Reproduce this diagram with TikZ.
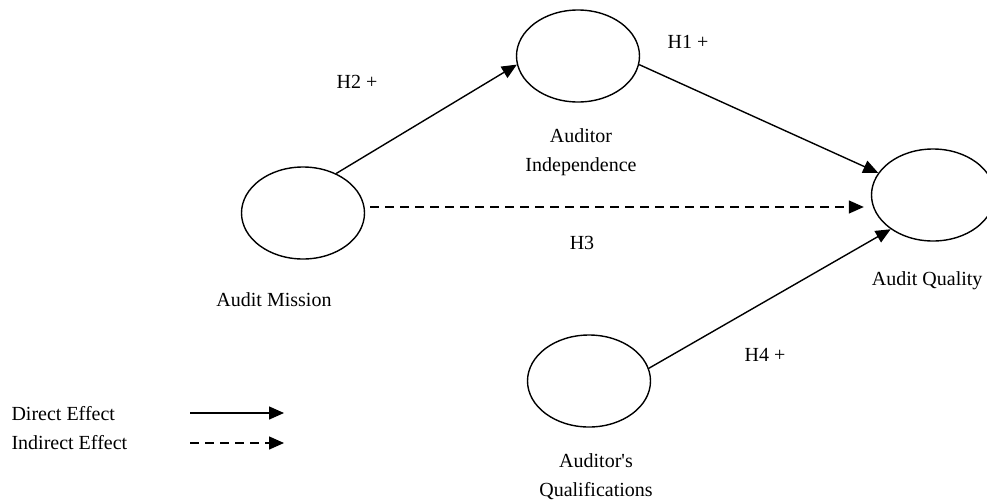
\documentclass[tikz,border=0pt]{standalone}
\usepackage{fontspec}
\setmainfont{Liberation Serif}
\usetikzlibrary{arrows,arrows.meta}
\usetikzlibrary{shapes.geometric}

\begin{document}
\begin{tikzpicture}[x=1pt,y=-1pt,
  latent/.style={ellipse,draw=black,line width=1.4pt,minimum width=123pt,minimum height=92pt,inner sep=0pt},
  lbl/.style={font=\fontsize{20}{29}\selectfont,align=center},
  effect/.style={line width=1.4pt,-{Triangle[length=15pt,width=13pt]}},
  ieffect/.style={effect,dash pattern=on 9pt off 6pt}]
\useasboundingbox (0,0) rectangle (987,501);

\node[latent] (mission) at (303,213) {};
\node[latent] (indep) at (578,56) {};
\node[latent] (quality) at (933,195) {};
\node[latent] (qualif) at (589,381) {};

%\draw (0,0) -- (987,501);
\draw[effect] (mission.50) -- (indep.188);
\draw[effect] (indep.-8) -- (quality.158);
\draw[ieffect] ([xshift=5pt,yshift=6pt]mission.east) -- ([xshift=-7pt,yshift=-12pt]quality.west);
\draw[effect] (qualif.12) -- (quality.219);

\node[lbl] (h2) at (357,82) {H2 +};
\node[lbl] (h1) at (688,42) {H1 +};
\node[lbl] (h3) at (582,243) {H3};
\node[lbl] (h4) at (765,355) {H4 +};

\node[lbl] (tindep) at (581,152) {Auditor\\Independence};
\node[lbl] (tmission) at (274,300) {Audit Mission};
\node[lbl,anchor=east] (tquality) at (986,281) {Audit Quality};
\node[lbl] (tqualif) at (596,477) {Auditor\textquotesingle s\\Qualifications};

% legend
\node[lbl,anchor=west] (direct) at (8,414) {Direct Effect};
\node[lbl,anchor=west] (indirect) at (8,443) {Indirect Effect};
\coordinate (d1) at (190,413);
\coordinate (d2) at (284,413);
\coordinate (i1) at (190,443);
\coordinate (i2) at (284,443);
\draw[effect] (d1) -- (d2);
\draw[ieffect] (i1) -- (i2);

\end{tikzpicture}
\end{document}
